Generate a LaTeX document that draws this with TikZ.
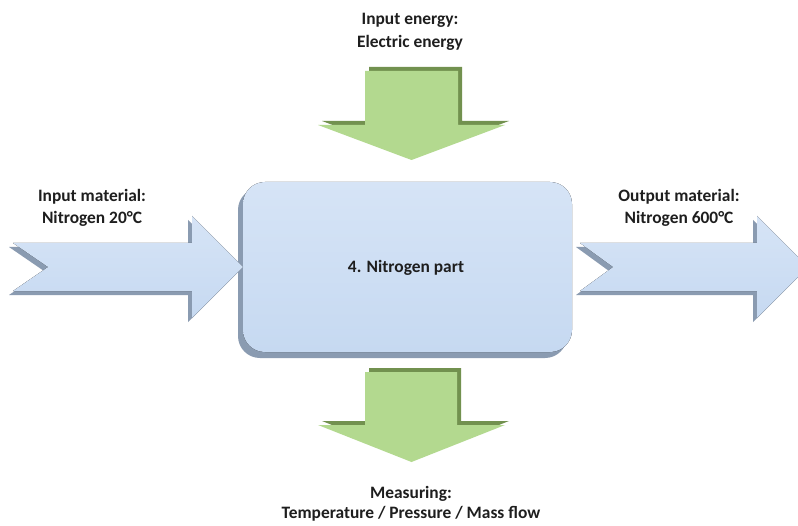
\documentclass[tikz,border=0pt]{standalone}
\usepackage{fontspec}
\setmainfont{Carlito}
\definecolor{bface}{HTML}{C6D9F1}
\definecolor{bfacetop}{HTML}{D6E4F6}
\definecolor{bdark}{HTML}{8A9BB1}
\definecolor{gface}{HTML}{B3D98F}
\definecolor{gdark}{HTML}{72914F}
\definecolor{txt}{HTML}{1E1E1E}
\begin{document}
\begin{tikzpicture}[x=1bp,y=-1bp,
  lbl/.style={anchor=base,inner sep=0pt,text=txt,font=\fontsize{17.4bp}{21bp}\selectfont\bfseries},
  bshadow/.style={fill=bdark},
  bfacestyle/.style={top color=bfacetop,bottom color=bface},
  gshadow/.style={fill=gdark},
  gfacestyle/.style={fill=gface}]
\useasboundingbox (0,0) rectangle (798,526);
\fill[white] (0,0) rectangle (798,526);
\begin{scope}
\clip (0,0) rectangle (798,526);
% main box
\fill[bdark,rounded corners=22] (238,188) rectangle (567,358);
\fill[bfacestyle,rounded corners=22] (243,182) rectangle (572,352);
\node[lbl] (box) at (406,273) {4. Nitrogen part};
% left arrow
\fill[bshadow,shift={(-4,4)}] (13,243) -- (192,243) -- (192,216) -- (243,267) -- (192,318) -- (192,291) -- (13,291) -- (48,267) -- cycle;
\fill[bfacestyle] (13,243) -- (192,243) -- (192,216) -- (243,267) -- (192,318) -- (192,291) -- (13,291) -- (48,267) -- cycle;
% right arrow
\fill[bshadow,shift={(-4,4)}] (580,243) -- (757,243) -- (757,216) -- (808,267) -- (757,318) -- (757,291) -- (580,291) -- (613,267) -- cycle;
\fill[bfacestyle] (580,243) -- (757,243) -- (757,216) -- (808,267) -- (757,318) -- (757,291) -- (580,291) -- (613,267) -- cycle;
% top green arrow
\fill[gshadow,shift={(4,-4)}] (365,71) -- (458,71) -- (458,125) -- (505,125) -- (411.5,160) -- (318,125) -- (365,125) -- cycle;
\fill[gfacestyle] (365,71) -- (458,71) -- (458,125) -- (505,125) -- (411.5,160) -- (318,125) -- (365,125) -- cycle;
% bottom green arrow
\fill[gshadow,shift={(4,-4)}] (365,372) -- (457,372) -- (457,425) -- (505,425) -- (411.5,462) -- (318,425) -- (365,425) -- cycle;
\fill[gfacestyle] (365,372) -- (457,372) -- (457,425) -- (505,425) -- (411.5,462) -- (318,425) -- (365,425) -- cycle;
\end{scope}
% labels
\node[lbl] (ie1) at (410,25) {Input energy:};
\node[lbl] (ie2) at (410,48) {Electric energy};
\node[lbl] (im1) at (92,202) {Input material:};
\node[lbl] (im2) at (92,224) {Nitrogen 20°C};
\node[lbl] (om1) at (679,202) {Output material:};
\node[lbl] (om2) at (679,224) {Nitrogen 600°C};
\node[lbl] (me1) at (411,498) {Measuring:};
\node[lbl] (me2) at (411,518) {Temperature / Pressure / Mass flow};
\end{tikzpicture}
\end{document}
